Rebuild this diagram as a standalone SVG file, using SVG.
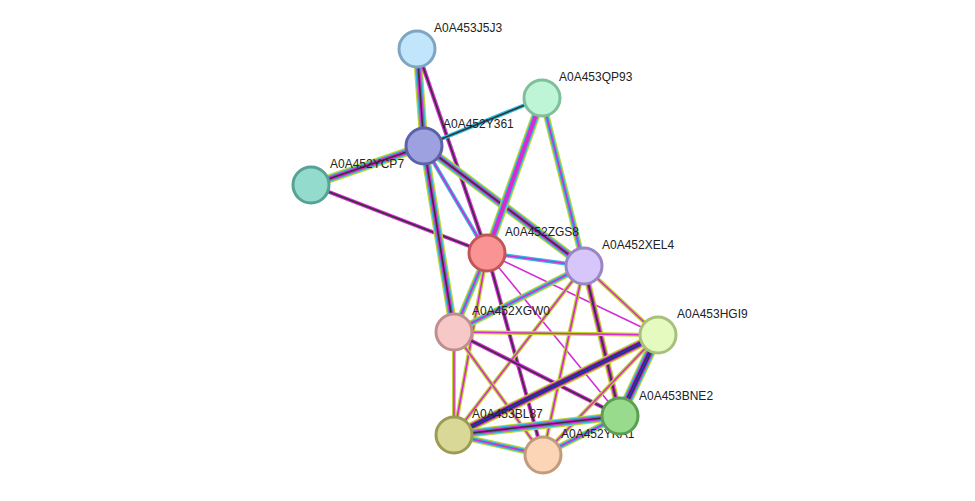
<svg xmlns="http://www.w3.org/2000/svg" width="975" height="501" viewBox="0 0 975 501">
<style>
line{stroke-linecap:butt}
.k{stroke:#333}.m{stroke:#d62bd6}.c{stroke:#2bbde0}.y{stroke:#bfd62b}.b{stroke:#2b2be0}
.w1{stroke-width:1.6}.w2{stroke-width:4}.w3{stroke-width:6.4}.w4{stroke-width:8.8}.w5{stroke-width:11}
.g{stroke:#fff}
circle{stroke-width:3}
text{font-family:"Liberation Sans",Arial,sans-serif;font-size:12px;fill:#222}
</style>
<rect width="975" height="501" fill="#fff"/>
<g id="connectors">
<!-- J5J3-Y361 -->
<line x1="417" y1="49" x2="424" y2="146" class="y w4"/><line x1="417" y1="49" x2="424" y2="146" class="c w3"/><line x1="417" y1="49" x2="424" y2="146" class="m w2"/><line x1="417" y1="49" x2="424" y2="146" class="k w1"/>
<line x1="417" y1="49" x2="487" y2="253" class="m w2"/><line x1="417" y1="49" x2="487" y2="253" class="k w1"/>
<line x1="424" y1="146" x2="542" y2="98" class="c w2"/><line x1="424" y1="146" x2="542" y2="98" class="k w1"/>
<line x1="424" y1="146" x2="311" y2="185" class="y w4"/><line x1="424" y1="146" x2="311" y2="185" class="c w3"/><line x1="424" y1="146" x2="311" y2="185" class="m w2"/><line x1="424" y1="146" x2="311" y2="185" class="k w1"/>
<line x1="311" y1="185" x2="487" y2="253" class="m w2"/><line x1="311" y1="185" x2="487" y2="253" class="k w1"/>
<line x1="424" y1="146" x2="487" y2="253" class="c w2"/><line x1="424" y1="146" x2="487" y2="253" class="m w1"/>
<line x1="424" y1="146" x2="584" y2="266" class="y w4"/><line x1="424" y1="146" x2="584" y2="266" class="c w3"/><line x1="424" y1="146" x2="584" y2="266" class="m w2"/><line x1="424" y1="146" x2="584" y2="266" class="k w1"/>
<line x1="424" y1="146" x2="454" y2="332" class="y w4"/><line x1="424" y1="146" x2="454" y2="332" class="c w3"/><line x1="424" y1="146" x2="454" y2="332" class="m w2"/><line x1="424" y1="146" x2="454" y2="332" class="k w1"/>
<line x1="542" y1="98" x2="487" y2="253" class="y w4"/><line x1="542" y1="98" x2="487" y2="253" class="c w3"/><line x1="542" y1="98" x2="487" y2="253" class="m w2"/><line x1="542" y1="98" x2="487" y2="253" class="m w1"/>
<line x1="542" y1="98" x2="584" y2="266" class="y w3"/><line x1="542" y1="98" x2="584" y2="266" class="c w2"/><line x1="542" y1="98" x2="584" y2="266" class="m w1"/>
<line x1="487" y1="253" x2="584" y2="266" class="c w2"/><line x1="487" y1="253" x2="584" y2="266" class="m w1"/>
<line x1="487" y1="253" x2="454" y2="332" class="y w3"/><line x1="487" y1="253" x2="454" y2="332" class="c w2"/><line x1="487" y1="253" x2="454" y2="332" class="m w1"/>
<line x1="487" y1="253" x2="658" y2="335" class="m w1"/>
<line x1="487" y1="253" x2="620" y2="416" class="m w1"/>
<line x1="487" y1="253" x2="543" y2="455" class="m w2"/><line x1="487" y1="253" x2="543" y2="455" class="k w1"/>
<line x1="487" y1="253" x2="454" y2="435" class="y w2"/><line x1="487" y1="253" x2="454" y2="435" class="m w1"/>
<line x1="584" y1="266" x2="454" y2="332" class="y w3"/><line x1="584" y1="266" x2="454" y2="332" class="c w2"/><line x1="584" y1="266" x2="454" y2="332" class="m w1"/>
<line x1="584" y1="266" x2="658" y2="335" class="y w2"/><line x1="584" y1="266" x2="658" y2="335" class="m w1"/>
<line x1="584" y1="266" x2="620" y2="416" class="y w3"/><line x1="584" y1="266" x2="620" y2="416" class="m w2"/><line x1="584" y1="266" x2="620" y2="416" class="k w1"/>
<line x1="584" y1="266" x2="454" y2="435" class="y w2"/><line x1="584" y1="266" x2="454" y2="435" class="m w1"/>
<line x1="584" y1="266" x2="543" y2="455" class="y w2"/><line x1="584" y1="266" x2="543" y2="455" class="m w1"/>
<line x1="454" y1="332" x2="658" y2="335" class="y w2"/><line x1="454" y1="332" x2="658" y2="335" class="m w1"/>
<line x1="454" y1="332" x2="620" y2="416" class="m w2"/><line x1="454" y1="332" x2="620" y2="416" class="k w1"/>
<line x1="454" y1="332" x2="454" y2="435" class="y w2"/><line x1="454" y1="332" x2="454" y2="435" class="m w1"/>
<line x1="454" y1="332" x2="543" y2="455" class="y w2"/><line x1="454" y1="332" x2="543" y2="455" class="m w1"/>
<line x1="658" y1="335" x2="454" y2="435" class="y w4"/><line x1="658" y1="335" x2="454" y2="435" class="m w3"/><line x1="658" y1="335" x2="454" y2="435" class="k w2"/><line x1="658" y1="335" x2="454" y2="435" class="b w1"/>
<line x1="658" y1="335" x2="620" y2="416" class="y w5"/><line x1="658" y1="335" x2="620" y2="416" class="c w4"/><line x1="658" y1="335" x2="620" y2="416" class="m w3"/><line x1="658" y1="335" x2="620" y2="416" class="k w2"/><line x1="658" y1="335" x2="620" y2="416" class="b w1"/>
<line x1="658" y1="335" x2="543" y2="455" class="y w2"/><line x1="658" y1="335" x2="543" y2="455" class="m w1"/>
<line x1="620" y1="416" x2="454" y2="435" class="y w4"/><line x1="620" y1="416" x2="454" y2="435" class="c w3"/><line x1="620" y1="416" x2="454" y2="435" class="m w2"/><line x1="620" y1="416" x2="454" y2="435" class="k w1"/>
<line x1="620" y1="416" x2="543" y2="455" class="y w3"/><line x1="620" y1="416" x2="543" y2="455" class="c w2"/><line x1="620" y1="416" x2="543" y2="455" class="m w1"/>
<line x1="454" y1="435" x2="543" y2="455" class="y w3"/><line x1="454" y1="435" x2="543" y2="455" class="c w2"/><line x1="454" y1="435" x2="543" y2="455" class="m w1"/>
</g>
<g id="A0A453J5J3"><circle cx="417" cy="49" r="18" fill="#c1e6fb" stroke="#7ea6c4"/><text x="434" y="32">A0A453J5J3</text></g>
<g id="A0A453QP93"><circle cx="542" cy="98" r="18" fill="#bdf5d6" stroke="#7fbf9c"/><text x="559" y="81">A0A453QP93</text></g>
<g id="A0A452Y361"><circle cx="424" cy="146" r="18" fill="#9da1e0" stroke="#5c62a8"/><text x="443" y="128">A0A452Y361</text></g>
<g id="A0A452YCP7"><circle cx="311" cy="185" r="18" fill="#93dccd" stroke="#56a294"/><text x="330" y="168">A0A452YCP7</text></g>
<g id="A0A452ZGS8"><circle cx="487" cy="253" r="18" fill="#fa9393" stroke="#c25656"/><text x="505" y="236">A0A452ZGS8</text></g>
<g id="A0A452XEL4"><circle cx="584" cy="266" r="18" fill="#d6c6fa" stroke="#9a86c4"/><text x="602" y="249">A0A452XEL4</text></g>
<g id="A0A452XGW0"><circle cx="454" cy="332" r="18" fill="#f7c8c8" stroke="#c08e8e"/><text x="472" y="315">A0A452XGW0</text></g>
<g id="A0A453HGI9"><circle cx="658" cy="335" r="18" fill="#e4fabe" stroke="#a8c07c"/><text x="677" y="318">A0A453HGI9</text></g>
<g id="A0A453BL87"><circle cx="454" cy="435" r="18" fill="#d9d896" stroke="#9c9b54"/><text x="472" y="418">A0A453BL87</text></g>
<g id="A0A452YKA1"><circle cx="543" cy="455" r="18" fill="#fbd5b5" stroke="#c29a7c"/><text x="561" y="438">A0A452YKA1</text></g>
<g id="A0A453BNE2"><circle cx="620" cy="416" r="18" fill="#99db8c" stroke="#5c9e52"/><text x="639" y="400">A0A453BNE2</text></g>
</svg>
